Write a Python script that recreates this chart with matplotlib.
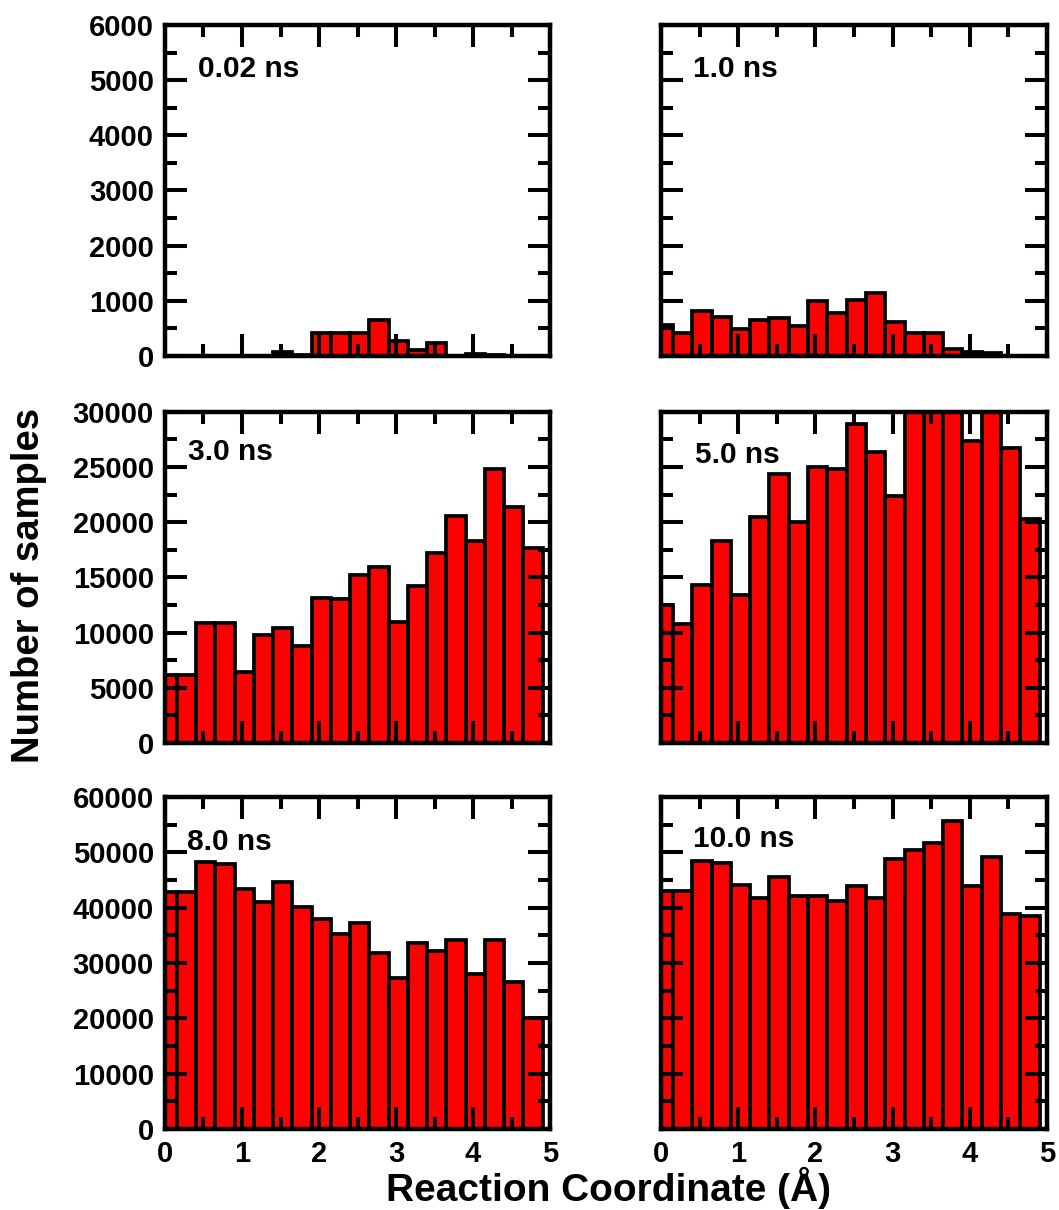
import numpy as np
import matplotlib
matplotlib.use("Agg")
import matplotlib.pyplot as plt
from matplotlib.ticker import MultipleLocator

# Bin centres of the reaction-coordinate histograms (Angstrom).
bin_centers = 0.03 + 0.25 * np.arange(20)

# Counts per bin.
counts_002 = [0, 0, 0, 0, 0, 0, 80, 20, 420, 420, 410, 650, 280, 110, 230,
              0, 40, 15, 0, 0]
counts_10 = [560, 420, 820, 700, 480, 660, 690, 540, 990, 780, 1020, 1150,
             610, 420, 420, 120, 70, 60, 0, 0]
counts_30 = [6150, 6150, 10900, 10900, 6400, 9750, 10400, 8800, 13100,
             13000, 15200, 15900, 11000, 14200, 17200, 20600, 18300, 24800,
             21400, 17700]
counts_50 = [12500, 10800, 14300, 18300, 13400, 20500, 24400, 20000, 25000,
             24800, 28900, 26400, 22400, 31000, 32500, 31800, 27400, 30800,
             26700, 20300]
counts_80 = [42900, 42900, 48300, 47900, 43400, 41100, 44700, 40200, 37900,
             35200, 37200, 31900, 27300, 33700, 32200, 34200, 28000, 34200,
             26600, 20100]
counts_100 = [43000, 43000, 48400, 48100, 44100, 41800, 45500, 42200, 42100,
              41200, 44000, 41700, 48800, 50500, 51700, 55700, 44000, 49200,
              38800, 38500]

panel_counts = [counts_002, counts_10, counts_30, counts_50, counts_80,
                counts_100]
panel_labels = ["0.02 ns", "1.0 ns", "3.0 ns", "5.0 ns", "8.0 ns", "10.0 ns"]
row_ymax = [6000, 30000, 60000]
row_major = [1000, 5000, 10000]

# Label anchor positions in axes fraction (left, baseline).
label_pos = [(0.086, 0.843), (0.083, 0.843), (0.060, 0.855),
             (0.088, 0.846), (0.057, 0.840), (0.083, 0.849)]

plt.rcParams["font.family"] = ["Liberation Sans", "DejaVu Sans"]
plt.rcParams["font.weight"] = "bold"

fig = plt.figure(figsize=(10.59, 12.10), dpi=100)

col_x = [0.1558, 0.6242]
col_w = [0.3636, 0.3645]
row_y = [0.7058, 0.3860, 0.0669]
row_h = [0.2736, 0.2736, 0.2744]

for i in range(6):
    r, c = divmod(i, 2)
    ax = fig.add_axes([col_x[c], row_y[r], col_w[c], row_h[r]])
    ax.bar(bin_centers, panel_counts[i], width=0.25, color="#ff0000",
           edgecolor="black", linewidth=2.7, align="center")
    ax.set_xlim(0, 5)
    ax.set_ylim(0, row_ymax[r])
    ax.xaxis.set_major_locator(MultipleLocator(1))
    ax.xaxis.set_minor_locator(MultipleLocator(0.5))
    ax.yaxis.set_major_locator(MultipleLocator(row_major[r]))
    ax.yaxis.set_minor_locator(MultipleLocator(row_major[r] / 2))
    ax.tick_params(which="both", direction="in", top=True, right=True,
                   width=2.9, labelsize=21)
    ax.tick_params(which="major", length=16, pad=8)
    ax.tick_params(which="minor", length=8.5)
    for sp in ax.spines.values():
        sp.set_linewidth(3.2)
    if c == 1:
        ax.tick_params(labelleft=False)
    if r < 2:
        ax.tick_params(labelbottom=False)
    ax.text(label_pos[i][0], label_pos[i][1], panel_labels[i],
            transform=ax.transAxes, fontsize=21.5, fontweight="bold",
            ha="left", va="baseline")

fig.text(0.027, 0.516, "Number of samples", rotation=90, fontsize=27.5,
         fontweight="bold", ha="center", va="center")
fig.text(0.575, 0.018, "Reaction Coordinate (\u00c5)", fontsize=28,
         fontweight="bold", ha="center", va="center")

plt.savefig("out.png", dpi=100)
